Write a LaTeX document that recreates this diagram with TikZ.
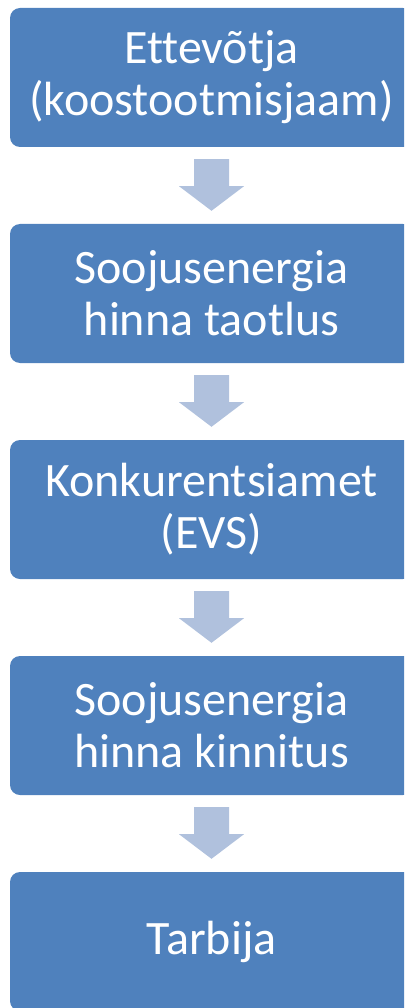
\documentclass[tikz,border=0pt]{standalone}
\usepackage{fontspec}
\setmainfont[Ligatures={NoCommon}]{Carlito}
\usetikzlibrary{calc}
\definecolor{boxblue}{HTML}{4F81BD}
\definecolor{arrowblue}{HTML}{B0C1DD}
\tikzset{
  stepbox/.style={draw=none, fill=boxblue, rounded corners=10pt, minimum width=403pt, minimum height=139pt,
    text=white, align=center, inner sep=0pt, font=\fontsize{48}{52}\selectfont},
  flowarrow/.style={fill=arrowblue, draw=none}
}
\newcommand{\flowarrowdraw}[2]{%
  \fill[flowarrow] ($(#1.south)+(-17.5,-12)$) -- ($(#1.south)+(17.5,-12)$) -- ($(#1.south)+(17.5,-39)$)
    -- ($(#1.south)+(32.5,-39)$) -- ($(#2.north)+(0,13)$) -- ($(#1.south)+(-32.5,-39)$)
    -- ($(#1.south)+(-17.5,-39)$) -- cycle;}
\begin{document}
\begin{tikzpicture}[x=1pt,y=1pt]
\useasboundingbox (0,0) rectangle (404,-1008);
\clip (0,0) rectangle (404,-1008);
\node[stepbox] (b1) at (211.5,-77.5) {Ettevõtja\\(koostootmisjaam)};
\node[stepbox] (b2) at (211.5,-293.5) {Soojusenergia\\hinna taotlus};
\node[stepbox] (b3) at (211.5,-509.5) {Konkurentsiamet\\(EVS)};
\node[stepbox] (b4) at (211.5,-725.5) {Soojusenergia\\hinna kinnitus};
\node[stepbox] (b5) at (211.5,-941.5) {Tarbija};
\flowarrowdraw{b1}{b2}
\flowarrowdraw{b2}{b3}
\flowarrowdraw{b3}{b4}
\flowarrowdraw{b4}{b5}
\end{tikzpicture}
\end{document}
